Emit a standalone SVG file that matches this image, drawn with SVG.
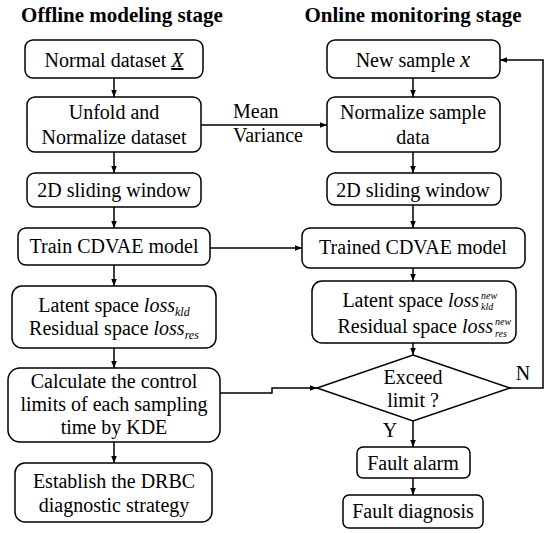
<svg xmlns="http://www.w3.org/2000/svg" width="550" height="533" viewBox="0 0 550 533" font-family="'Liberation Serif', 'Times New Roman', serif">
<defs>
<marker id="ah" viewBox="0 0 10 10" refX="10" refY="5" markerWidth="7" markerHeight="7" markerUnits="userSpaceOnUse" orient="auto">
<path d="M0,1 L10,5 L0,9 z" fill="#000"/>
</marker>
<style>
.b{fill:#fff;stroke:#000;stroke-width:1.5}
.t{font-family:'Liberation Serif','Times New Roman',serif;font-size:20px;fill:#000;text-anchor:middle}
.l{font-family:'Liberation Serif','Times New Roman',serif;font-size:20px;fill:#000;text-anchor:start}
.r{font-family:'Liberation Serif','Times New Roman',serif;font-size:20px;fill:#000;text-anchor:end}
.h{font-family:'Liberation Serif','Times New Roman',serif;font-size:21px;font-weight:bold;fill:#000;text-anchor:middle}
.c{fill:none;stroke:#000;stroke-width:1.5}
.i{font-style:italic}
.s{font-size:12px;font-style:italic}
.u{font-family:'Liberation Serif','Times New Roman',serif;font-size:10px;font-style:italic;fill:#000}
</style>
</defs>
<rect width="550" height="533" fill="#fff"/>
<text class="h" x="122" y="22">Offline modeling stage</text>
<text class="h" x="413" y="22">Online monitoring stage</text>
<g id="connectors">
<path class="c" d="M114,78 V97" marker-end="url(#ah)"/>
<path class="c" d="M114,152 V173" marker-end="url(#ah)"/>
<path class="c" d="M114,207 V228" marker-end="url(#ah)"/>
<path class="c" d="M114,265 V286" marker-end="url(#ah)"/>
<path class="c" d="M114,348 V368" marker-end="url(#ah)"/>
<path class="c" d="M114,442 V463" marker-end="url(#ah)"/>
<path class="c" d="M201,125 H327" marker-end="url(#ah)"/>
<path class="c" d="M210,248 H302" marker-end="url(#ah)"/>
<path class="c" d="M413,78 V97" marker-end="url(#ah)"/>
<path class="c" d="M413,152 V173" marker-end="url(#ah)"/>
<path class="c" d="M413,205 V228" marker-end="url(#ah)"/>
<path class="c" d="M413,268 V281" marker-end="url(#ah)"/>
<path class="c" d="M413,343 V355" marker-end="url(#ah)"/>
<path class="c" d="M220,393 H272 V388 H317" marker-end="url(#ah)"/>
<path class="c" d="M510,388 H543 V60 H500" marker-end="url(#ah)"/>
<path class="c" d="M413,421 V447" marker-end="url(#ah)"/>
<path class="c" d="M413,478 V495" marker-end="url(#ah)"/>
<text class="l" x="233" y="118">Mean</text>
<text class="l" x="233" y="142">Variance</text>
<text class="t" x="523" y="380">N</text>
<text class="t" x="390" y="437">Y</text>
</g>
<g id="n1"><rect class="b" x="25" y="40" width="178" height="38" rx="8"/>
<text class="t" x="114" y="67">Normal dataset <tspan class="i" text-decoration="underline">X</tspan></text></g>
<g id="n2"><rect class="b" x="27" y="97" width="174" height="55" rx="8"/>
<text class="t" x="114" y="119">Unfold and</text><text class="t" x="114" y="144">Normalize dataset</text></g>
<g id="n3"><rect class="b" x="27" y="173" width="174" height="34" rx="8"/>
<text class="t" x="114" y="197">2D sliding window</text></g>
<g id="n4"><rect class="b" x="18" y="228" width="192" height="37" rx="8"/>
<text class="t" x="114" y="253">Train CDVAE model</text></g>
<g id="n5"><rect class="b" x="12" y="286" width="204" height="62" rx="10"/>
<text class="t" x="114" y="312">Latent space <tspan class="i">loss</tspan><tspan class="s" dy="4">kld</tspan></text>
<text class="t" x="114" y="335">Residual space <tspan class="i">loss</tspan><tspan class="s" dy="4">res</tspan></text></g>
<g id="n6"><rect class="b" x="8" y="368" width="212" height="74" rx="12"/>
<text class="t" x="114" y="388">Calculate the control</text>
<text class="t" x="114" y="411">limits of each sampling</text>
<text class="t" x="114" y="434">time by KDE</text></g>
<g id="n7"><rect class="b" x="15" y="463" width="197" height="59" rx="10"/>
<text class="t" x="114" y="488">Establish the DRBC</text>
<text class="t" x="114" y="512">diagnostic strategy</text></g>
<g id="r1"><rect class="b" x="327" y="40" width="173" height="38" rx="8"/>
<text class="t" x="413" y="67">New sample <tspan class="i" font-size="23">x</tspan></text></g>
<g id="r2"><rect class="b" x="327" y="97" width="173" height="55" rx="8"/>
<text class="t" x="413" y="119">Normalize sample</text><text class="t" x="413" y="144">data</text></g>
<g id="r3"><rect class="b" x="327" y="173" width="174" height="32" rx="8"/>
<text class="t" x="413" y="197">2D sliding window</text></g>
<g id="r4"><rect class="b" x="302" y="228" width="223" height="40" rx="8"/>
<text class="t" x="413" y="254">Trained CDVAE model</text></g>
<g id="r5"><rect class="b" x="312" y="281" width="204" height="62" rx="10"/>
<text class="r" x="479" y="307">Latent space <tspan class="i">loss</tspan></text>
<text class="u" x="481" y="299">new</text>
<text class="u" x="481" y="310">kld</text>
<text class="r" x="493" y="333">Residual space <tspan class="i">loss</tspan></text>
<text class="u" x="495" y="325">new</text>
<text class="u" x="495" y="337">res</text></g>
<g id="d1"><path class="b" d="M413,355 L510,388 L413,421 L317,388 Z"/>
<text class="t" x="413" y="384">Exceed</text><text class="t" x="413" y="407">limit ?</text></g>
<g id="r6"><rect class="b" x="357" y="447" width="113" height="31" rx="6"/>
<text class="t" x="413" y="470">Fault alarm</text></g>
<g id="r7"><rect class="b" x="343" y="495" width="140" height="33" rx="6"/>
<text class="t" x="413" y="518">Fault diagnosis</text></g>
</svg>
